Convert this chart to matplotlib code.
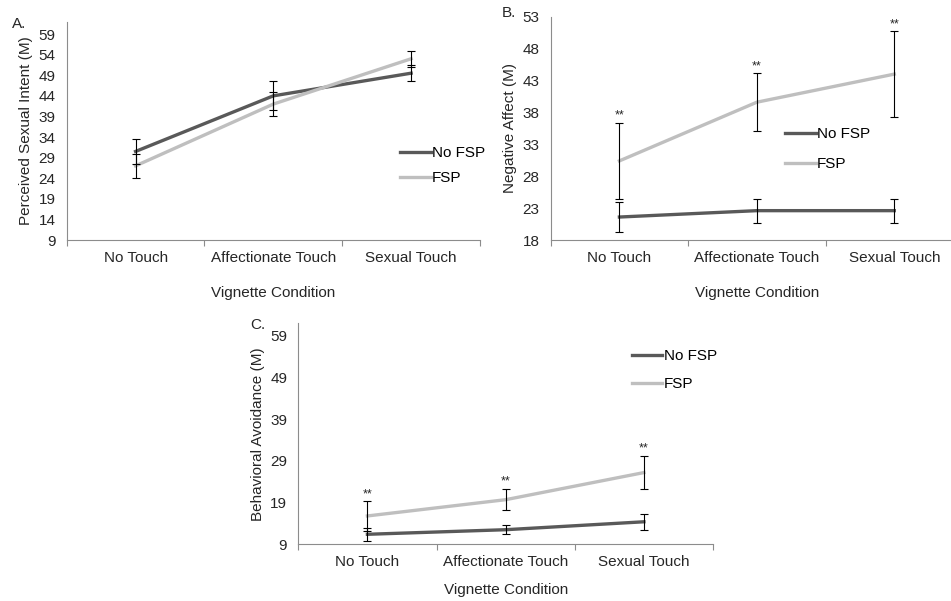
import matplotlib
matplotlib.use("Agg")
import matplotlib.pyplot as plt
import numpy as np

plt.rcParams['font.family'] = ['Liberation Sans', 'DejaVu Sans']

conditions = ["No Touch", "Affectionate Touch", "Sexual Touch"]

# A. perceived sexual intent
a_nofsp = [30.5, 44.0, 49.5]
a_nofsp_err = [3.0, 3.5, 2.0]
a_fsp = [27.0, 42.0, 53.0]
a_fsp_err = [3.0, 3.0, 2.0]

# B. negative affect
b_nofsp = [21.6, 22.6, 22.6]
b_nofsp_err = [2.3, 1.9, 1.9]
b_fsp = [30.4, 39.6, 44.0]
b_fsp_err = [6.0, 4.5, 6.7]

# C. behavioral avoidance
c_nofsp = [11.4, 12.5, 14.4]
c_nofsp_err = [1.5, 1.1, 1.9]
c_fsp = [15.8, 19.7, 26.2]
c_fsp_err = [3.5, 2.5, 3.9]

DARK = "#595959"
LIGHT = "#bfbfbf"
TEXT = "#262626"
AXIS = "#8c8c8c"
FS = 11

W, H = 951, 601
fig = plt.figure(figsize=(W / 100, H / 100), dpi=100)


def px_axes(left, top, right, bottom):
    return fig.add_axes([left / W, 1 - bottom / H, (right - left) / W, (bottom - top) / H])


def panel(ax, nofsp, nofsp_err, fsp, fsp_err, ylim, yticks, ylabel, stars, legend_xy, spacing,
          xlabelpad=15):
    x = np.arange(len(conditions)) + 0.5
    ax.plot(x, nofsp, color=DARK, lw=2.4, label="No FSP", zorder=2)
    ax.plot(x, fsp, color=LIGHT, lw=2.4, label="FSP", zorder=2)
    ax.errorbar(x, nofsp, yerr=nofsp_err, fmt='none', ecolor='black', elinewidth=0.8,
                capsize=3, capthick=0.8, zorder=3)
    ax.errorbar(x, fsp, yerr=fsp_err, fmt='none', ecolor='black', elinewidth=0.8,
                capsize=3, capthick=0.8, zorder=3)
    if stars:
        for xi, v, e in zip(x, fsp, fsp_err):
            ax.annotate("**", (xi, v + e), xytext=(0, 1), textcoords='offset points',
                        ha='center', va='bottom', fontsize=9, color=TEXT)
    ax.set_xlim(0, 3)
    ax.set_ylim(*ylim)
    ax.set_yticks(yticks)
    ax.set_xticks([0, 1, 2, 3])
    ax.set_xticklabels([])
    ax.set_xticks(x, minor=True)
    ax.set_xticklabels(conditions, minor=True)
    ax.tick_params(axis='x', which='minor', length=0, pad=8, labelsize=FS, labelcolor=TEXT)
    ax.tick_params(axis='x', which='major', length=4, color=AXIS, width=0.8)
    ax.tick_params(axis='y', length=0, pad=8, labelsize=FS, labelcolor=TEXT)
    for s in ['top', 'right']:
        ax.spines[s].set_visible(False)
    for s in ['left', 'bottom']:
        ax.spines[s].set_color(AXIS)
        ax.spines[s].set_linewidth(0.8)
    ax.set_ylabel(ylabel, fontsize=FS, color=TEXT, labelpad=4)
    ax.set_xlabel("Vignette Condition", fontsize=FS, color=TEXT, labelpad=xlabelpad)
    ax.legend(loc='upper left', bbox_to_anchor=(legend_xy[0] / W, 1 - legend_xy[1] / H),
              bbox_transform=fig.transFigure, frameon=False, fontsize=FS,
              handlelength=2.0, handletextpad=0.1, borderpad=0, borderaxespad=0,
              labelspacing=spacing)


ax_a = px_axes(66.7, 21.7, 480, 240)
panel(ax_a, a_nofsp, a_nofsp_err, a_fsp, a_fsp_err, (9, 62), np.arange(9, 60, 5),
      "Perceived Sexual Intent (M)", False, (400, 146), 0.72)

ax_b = px_axes(550.7, 16.7, 963, 240)
panel(ax_b, b_nofsp, b_nofsp_err, b_fsp, b_fsp_err, (18, 53), np.arange(18, 54, 5),
      "Negative Affect (M)", True, (785, 127), 1.05)

ax_c = px_axes(298.3, 323.3, 713, 544.3)
panel(ax_c, c_nofsp, c_nofsp_err, c_fsp, c_fsp_err, (9, 62), np.arange(9, 60, 10),
      "Behavioral Avoidance (M)", True, (631.7, 349), 0.92, xlabelpad=10)

fig.text(12 / W, 1 - 24 / H, "A.", fontsize=FS, color=TEXT, va='center')
fig.text(502 / W, 1 - 13 / H, "B.", fontsize=FS, color=TEXT, va='center')
fig.text(250 / W, 1 - 325 / H, "C.", fontsize=FS, color=TEXT, va='center')

fig.savefig("out.png", dpi=100)
